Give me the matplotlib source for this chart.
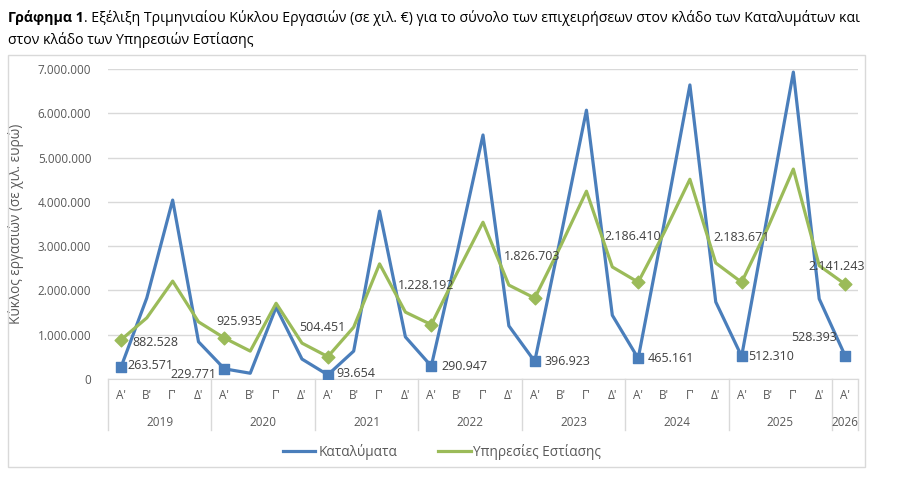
import numpy as np
import matplotlib.pyplot as plt
from matplotlib.lines import Line2D
from matplotlib.patches import Rectangle
import matplotlib.transforms as mtransforms

plt.rcParams['font.family'] = ['Open Sans', 'DejaVu Sans']

years = ['2019', '2020', '2021', '2022', '2023', '2024', '2025', '2026']
quarters = ["Α'", "Β'", "Γ'", "Δ'"]

# τριμηνιαίος κύκλος εργασιών (χιλ. ευρώ), 2019 Α' έως 2026 Α'
katalymata = [263571, 1830000, 4040000, 840000,
              229771, 130000, 1620000, 450000,
              93654, 630000, 3790000, 950000,
              290947, 2850000, 5510000, 1200000,
              396923, 3200000, 6070000, 1440000,
              465161, 3500000, 6640000, 1740000,
              512310, 3700000, 6930000, 1810000,
              528393]
estiasi = [882528, 1380000, 2210000, 1290000,
           925935, 630000, 1710000, 810000,
           504451, 1170000, 2600000, 1510000,
           1228192, 2400000, 3540000, 2120000,
           1826703, 3000000, 4240000, 2530000,
           2186410, 3300000, 4510000, 2620000,
           2183671, 3400000, 4740000, 2560000,
           2141243]

blue = '#4A7EBB'
green = '#9BBB59'
grey_txt = '#595959'

n = len(katalymata)
x = np.arange(n)
a_idx = x[::4]

fig = plt.figure(figsize=(8.99, 4.82), dpi=100)
W, H = 899, 482
ax = fig.add_axes([108 / W, 1 - 379 / H, 750 / W, 310 / H])

# πλαίσιο γραφήματος
fig.patches.append(Rectangle((8 / W, 1 - 467 / H), 857 / W, 412 / H,
                             transform=fig.transFigure, fill=False,
                             edgecolor='#d9d9d9', linewidth=1))

# τίτλος: έντονο πρόθεμα και κανονικό κείμενο δίπλα
t1 = fig.text(8 / W, 1 - 18 / H, "Γράφημα 1", fontsize=10.2, fontweight='bold',
              va='center', ha='left')
fig.canvas.draw()
bb = t1.get_window_extent()
fig.text(bb.x1 / W, 1 - 18 / H,
         ". Εξέλιξη Τριμηνιαίου Κύκλου Εργασιών (σε χιλ. €) για το σύνολο των "
         "επιχειρήσεων στον κλάδο των Καταλυμάτων και",
         fontsize=10.2, va='center', ha='left')
fig.text(8 / W, 1 - 40 / H, "στον κλάδο των Υπηρεσιών Εστίασης",
         fontsize=10.2, va='center', ha='left')

ax.plot(x, katalymata, color=blue, linewidth=2.3, zorder=3)
ax.plot(x, estiasi, color=green, linewidth=2.3, zorder=3)
ax.scatter(a_idx, np.array(katalymata)[a_idx], marker='s', s=50, color=blue, zorder=4)
ax.scatter(a_idx, np.array(estiasi)[a_idx], marker='D', s=42, color=green, zorder=4)


def fmt(v):
    return f'{v:,.0f}'.replace(',', '.')


# θέσεις ετικετών (σε points) για τα Α' τρίμηνα
k_off = [(5, 1, 'left'), (-6, -4, 'right'), (6, 1, 'left'), (7, 0, 'left'),
         (7, 0, 'left'), (7, 0, 'left'), (5, 0, 'left'), (-6, 13, 'right')]
e_off = [(8, -2, 'left'), (11, 12, 'center'), (-4, 21, 'center'), (-4, 28, 'center'),
         (-2, 30, 'center'), (-4, 33, 'center'), (0, 32, 'center'), (-6, 13, 'center')]

for j, i in enumerate(a_idx):
    dx, dy, ha = k_off[j]
    ax.annotate(fmt(katalymata[i]), (i, katalymata[i]), xytext=(dx, dy),
                textcoords='offset points', ha=ha, va='center',
                fontsize=9, color='#404040', zorder=5)
    dx, dy, ha = e_off[j]
    ax.annotate(fmt(estiasi[i]), (i, estiasi[i]), xytext=(dx, dy),
                textcoords='offset points', ha=ha, va='center',
                fontsize=9, color='#404040', zorder=5)

ax.set_xlim(-0.5, n - 0.5)
ax.set_ylim(0, 7000000)
ticks = np.arange(0, 7000001, 1000000)
ax.set_yticks(ticks)
ax.set_yticklabels([fmt(v) for v in ticks], fontsize=8.5, color=grey_txt)
ax.grid(axis='y', color='#d9d9d9', linewidth=1)
ax.set_axisbelow(True)
for s in ['top', 'right', 'left']:
    ax.spines[s].set_visible(False)
ax.spines['bottom'].set_color('#d9d9d9')
ax.tick_params(axis='y', length=0, pad=12)
ax.tick_params(axis='x', length=0, pad=7)

ax.set_xticks(x)
ax.set_xticklabels([quarters[i % 4] for i in range(n)], fontsize=8.5, color=grey_txt)

trans = mtransforms.blended_transform_factory(ax.transData, ax.transAxes)
sep_bottom = -(430 - 379) / 310
for b in list(np.arange(-0.5, n, 4)) + [n - 0.5]:
    ax.plot([b, b], [0, sep_bottom], transform=trans, color='#d9d9d9',
            linewidth=1, clip_on=False)
for k, yr in enumerate(years):
    start = 4 * k
    end = min(start + 3, n - 1)
    ax.text((start + end) / 2, -(422 - 379) / 310, yr, transform=trans,
            ha='center', va='center', fontsize=8.5, color=grey_txt)

ax.set_ylabel('Κύκλος εργασιών (σε χιλ. ευρώ)', fontsize=9.8, color=grey_txt)
ax.yaxis.set_label_coords(-(108 - 24) / 750, 0.5)

handles = [Line2D([], [], color=blue, linewidth=2.3),
           Line2D([], [], color=green, linewidth=2.3)]
fig.legend(handles, ['Καταλύματα', 'Υπηρεσίες Εστίασης'], ncol=2,
           loc='center', bbox_to_anchor=(442 / W, 1 - 452 / H), frameon=False,
           fontsize=9.8, handlelength=2.4, handletextpad=0.2, columnspacing=3,
           labelcolor=grey_txt)

fig.savefig('out.png', dpi=100)
